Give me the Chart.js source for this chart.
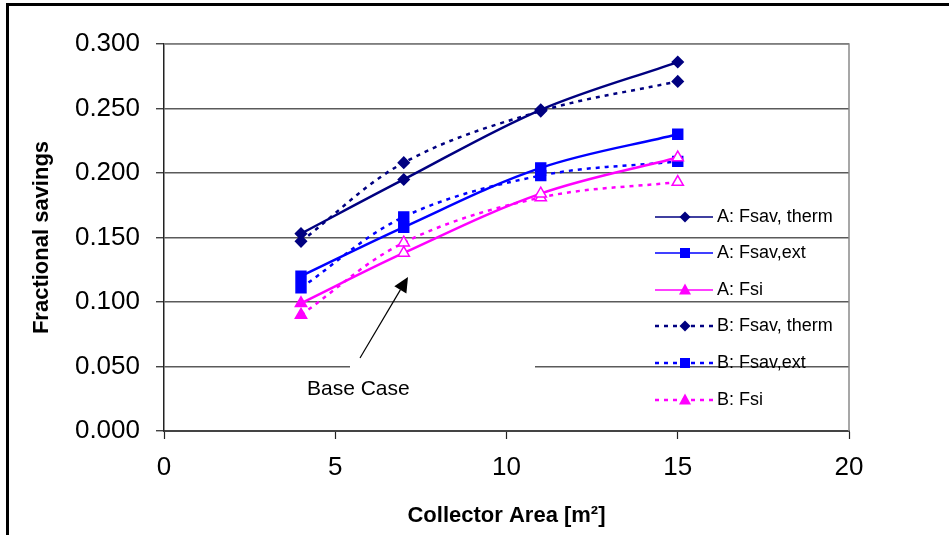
<!DOCTYPE html>
<html>
<head>
<meta charset="utf-8">
<script src="https://cdn.jsdelivr.net/npm/chart.js@4/dist/chart.umd.min.js"></script>
<style>
  html, body { margin: 0; padding: 0; background: #fff; }
  #wrap { position: relative; width: 949px; height: 535px; }
</style>
</head>
<body>
<div id="wrap"><canvas id="chart" width="949" height="535"></canvas></div>
<script>
// collector area (m2) for every series
const area = [4, 7, 11, 15];

// case A (solid lines)
const aTherm = [0.153, 0.195, 0.249, 0.286];
const aExt   = [0.120, 0.158, 0.204, 0.230];
const aFsi   = [0.099, 0.138, 0.184, 0.212];

// case B (dotted lines)
const bTherm = [0.147, 0.208, 0.248, 0.271];
const bExt   = [0.111, 0.166, 0.198, 0.209];
const bFsi   = [0.090, 0.146, 0.181, 0.193];

const seriesNames = ['A: Fsav, therm', 'A: Fsav,ext', 'A: Fsi', 'B: Fsav, therm', 'B: Fsav,ext', 'B: Fsi'];

const NAVY = '#000080', BLUE = '#0000FF', PINK = '#FF00FF';
const FONT = "'Liberation Sans', Arial, sans-serif";

function pts(vals) {
  return area.map((x, i) => ({ x: x, y: vals[i] }));
}

// triangles are filled only at the first point, hollow after that
const triFill = area.map((x, i) => i === 0 ? PINK : '#ffffff');

function makeSet(label, vals, color, style, radius, dashed, fill) {
  return {
    label: label,
    data: pts(vals),
    borderColor: color,
    backgroundColor: color,
    borderWidth: 2.5,
    borderDash: dashed ? [4, 5] : [],
    tension: 0.35,
    pointStyle: style,
    pointRadius: radius,
    pointHoverRadius: radius,
    pointBackgroundColor: fill || color,
    pointBorderColor: color,
    pointBorderWidth: 1.5,
    fill: false
  };
}

const datasets = [
  makeSet(seriesNames[0], aTherm, NAVY, 'rectRot', 5.5, false),
  makeSet(seriesNames[1], aExt, BLUE, 'rect', 7, false),
  makeSet(seriesNames[2], aFsi, PINK, 'triangle', 6.5, false, triFill),
  makeSet(seriesNames[3], bTherm, NAVY, 'rectRot', 5.5, true),
  makeSet(seriesNames[4], bExt, BLUE, 'rect', 7, true),
  makeSet(seriesNames[5], bFsi, PINK, 'triangle', 6.5, true, triFill)
];

// draw a small legend marker by hand
function marker(ctx, style, x, y, color) {
  ctx.save();
  ctx.fillStyle = color;
  ctx.setLineDash([]);
  ctx.beginPath();
  if (style === 'rectRot') {
    ctx.moveTo(x, y - 5.5); ctx.lineTo(x + 5.5, y); ctx.lineTo(x, y + 5.5); ctx.lineTo(x - 5.5, y);
  } else if (style === 'rect') {
    ctx.rect(x - 5, y - 5, 10, 10);
  } else {
    ctx.moveTo(x, y - 6.5); ctx.lineTo(x + 6, y + 4.5); ctx.lineTo(x - 6, y + 4.5);
  }
  ctx.closePath();
  ctx.fill();
  ctx.restore();
}

const extras = {
  id: 'extras',
  beforeDatasetsDraw(chart) {
    const ctx = chart.ctx;
    const area = chart.chartArea;
    ctx.save();
    // plot area frame (top and right)
    ctx.strokeStyle = '#8a8a8a';
    ctx.lineWidth = 1.5;
    ctx.beginPath();
    ctx.moveTo(area.left, area.top);
    ctx.lineTo(area.right, area.top);
    ctx.lineTo(area.right, area.bottom);
    ctx.stroke();
    // white box behind the "Base Case" note
    ctx.fillStyle = '#ffffff';
    ctx.fillRect(350, 358, 185, 50);
    ctx.restore();
  },
  afterDraw(chart) {
    const ctx = chart.ctx;
    ctx.save();
    // legend
    const legendY = [217, 253, 290, 326, 363, 400];
    chart.data.datasets.forEach((ds, i) => {
      const y = legendY[i];
      ctx.strokeStyle = ds.borderColor;
      ctx.lineWidth = ds.borderDash.length ? 2.5 : 1.5;
      ctx.setLineDash(ds.borderDash.length ? [4, 5] : []);
      ctx.beginPath();
      ctx.moveTo(655, y);
      ctx.lineTo(713, y);
      ctx.stroke();
      marker(ctx, ds.pointStyle, 685, y, ds.borderColor);
      ctx.fillStyle = '#000';
      ctx.font = '18px ' + FONT;
      ctx.textAlign = 'left';
      ctx.textBaseline = 'middle';
      ctx.fillText(ds.label, 717, y);
    });
    ctx.setLineDash([]);

    // Base Case note with arrow
    ctx.fillStyle = '#000';
    ctx.font = '21px ' + FONT;
    ctx.textBaseline = 'middle';
    ctx.fillText('Base Case', 307, 389);
    const x0 = 360, y0 = 358, x1 = 408, y1 = 277;
    const ang = Math.atan2(y1 - y0, x1 - x0);
    const hl = 15, hw = 7;
    const bx = x1 - hl * Math.cos(ang), by = y1 - hl * Math.sin(ang);
    ctx.strokeStyle = '#000';
    ctx.lineWidth = 1.2;
    ctx.beginPath();
    ctx.moveTo(x0, y0);
    ctx.lineTo(bx, by);
    ctx.stroke();
    ctx.beginPath();
    ctx.moveTo(x1, y1);
    ctx.lineTo(bx + hw * Math.sin(ang), by - hw * Math.cos(ang));
    ctx.lineTo(bx - hw * Math.sin(ang), by + hw * Math.cos(ang));
    ctx.closePath();
    ctx.fill();

    // outer frame (top and left edges)
    ctx.fillRect(6, 3, 943, 3);
    ctx.fillRect(6, 3, 3, 532);
    ctx.restore();
  }
};

new Chart(document.getElementById('chart'), {
  type: 'line',
  data: { datasets: datasets },
  plugins: [extras],
  options: {
    responsive: false,
    animation: false,
    layout: { padding: { top: 44, right: 100, bottom: 0, left: 0 } },
    plugins: {
      legend: { display: false },
      tooltip: { enabled: false }
    },
    scales: {
      x: {
        type: 'linear',
        min: 0,
        max: 20,
        afterFit(scale) { scale.height = 104; },
        ticks: {
          stepSize: 5,
          padding: 13,
          color: '#000',
          font: { family: FONT, size: 26 }
        },
        grid: {
          drawOnChartArea: false,
          drawTicks: true,
          tickLength: 8,
          tickColor: '#222',
          tickWidth: 1.2
        },
        border: { color: '#444', width: 2 },
        title: {
          display: true,
          text: 'Collector Area [m²]',
          color: '#000',
          padding: { top: 0, bottom: 6 },
          font: { family: FONT, size: 22, weight: 'bold' }
        }
      },
      y: {
        min: 0,
        max: 0.3,
        afterFit(scale) { scale.width = 164; },
        ticks: {
          stepSize: 0.05,
          padding: 16,
          color: '#000',
          font: { family: FONT, size: 26 },
          callback: v => v.toFixed(3)
        },
        grid: {
          color: '#5a5a5a',
          lineWidth: 1.5,
          drawTicks: true,
          tickLength: 8,
          tickColor: '#222',
          tickWidth: 1.2
        },
        border: { color: '#222', width: 1.5 },
        title: {
          display: true,
          text: 'Fractional savings',
          color: '#000',
          padding: { top: 29, bottom: 0 },
          font: { family: FONT, size: 22, weight: 'bold' }
        }
      }
    }
  }
});
</script>
</body>
</html>
